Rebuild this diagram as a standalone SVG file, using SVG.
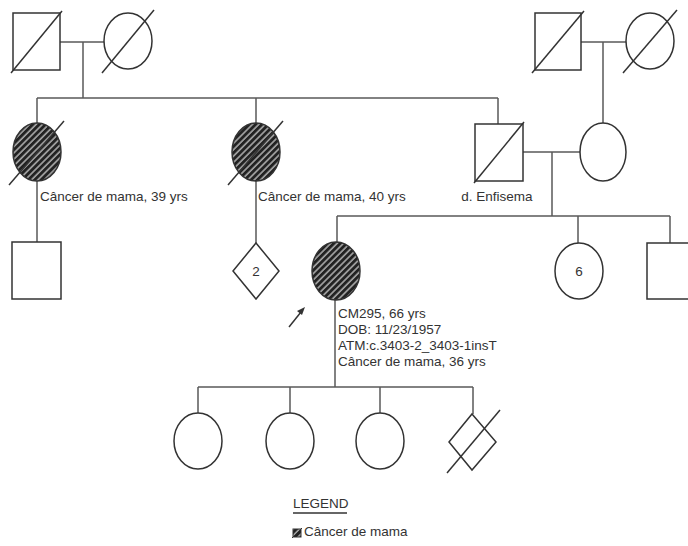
<svg xmlns="http://www.w3.org/2000/svg" width="688" height="546" viewBox="0 0 688 546">
<defs>
<pattern id="hatch" patternUnits="userSpaceOnUse" width="4.5" height="4.5" patternTransform="rotate(45)">
<rect width="4.5" height="4.5" fill="#222"/>
<line x1="1" y1="0" x2="1" y2="4.5" stroke="#a8a8a8" stroke-width="1.6"/>
</pattern>
</defs>
<style>
.c{stroke:#5a5a5a;stroke-width:1.5;fill:none}
.s{stroke:#333;stroke-width:1.5;fill:#fff}
.a{stroke:#333;stroke-width:1.5;fill:url(#hatch)}
.d{stroke:#333;stroke-width:1.5}
text{font-family:"Liberation Sans",Arial,sans-serif;font-size:13.5px;fill:#333}
.m{text-anchor:middle}
</style>
<rect width="688" height="546" fill="#fff"/>
<g id="connectors">
<path class="c" d="M60 42H104M83 42V98M37 98H498M37 98V123M256 98V123M498 98V124"/>
<path class="c" d="M581 42H627M603 42V124"/>
<path class="c" d="M37 181V242M256 181V243"/>
<path class="c" d="M523 152H581M552 152V216M337 216H670M337 216V243M578 216V243M670 216V243"/>
<path class="c" d="M335 300V387M198 387H473M198 387V413M290 387V413M380 387V413M473 387V414"/>
</g>
<g id="gp1-m"><rect class="s" x="13" y="13" width="47" height="57"/><line class="d" x1="11" y1="73" x2="62" y2="11"/></g>
<g id="gp1-f"><ellipse class="s" cx="128" cy="41" rx="24" ry="28"/><line class="d" x1="102" y1="73" x2="154" y2="10"/></g>
<g id="gp2-m"><rect class="s" x="535" y="13" width="46" height="57"/><line class="d" x1="532" y1="73" x2="584" y2="11"/></g>
<g id="gp2-f"><ellipse class="s" cx="650" cy="41" rx="24" ry="28"/><line class="d" x1="623" y1="73" x2="677" y2="10"/></g>
<g id="aunt1"><ellipse class="a" cx="37" cy="152" rx="24" ry="29"/><line class="d" x1="9" y1="185" x2="64" y2="121"/><text x="40" y="201">Câncer de mama, 39 yrs</text></g>
<g id="aunt2"><ellipse class="a" cx="256" cy="152" rx="24" ry="29"/><line class="d" x1="228" y1="185" x2="283" y2="121"/><text x="258" y="201">Câncer de mama, 40 yrs</text></g>
<g id="father"><rect class="s" x="475" y="124" width="48" height="57"/><line class="d" x1="474" y1="183" x2="524" y2="122"/><text class="m" x="497" y="201">d. Enfisema</text></g>
<g id="mother"><ellipse class="s" cx="603" cy="152" rx="23" ry="29"/></g>
<g id="cousin1"><rect class="s" x="12" y="242" width="49" height="57"/></g>
<g id="cousins2"><polygon class="s" points="256,243 279,271 256,299 233,271"/><text class="m" x="256" y="276">2</text></g>
<g id="proband"><ellipse class="a" cx="336" cy="271" rx="24" ry="29"/>
<line class="d" x1="289" y1="327" x2="301" y2="312"/><polygon points="305,307 297,311 302,315" fill="#333"/>
<text x="338" y="318">CM295, 66 yrs</text><text x="338" y="334">DOB: 11/23/1957</text><text x="338" y="350">ATM:c.3403-2_3403-1insT</text><text x="338" y="366">Câncer de mama, 36 yrs</text></g>
<g id="sisters6"><ellipse class="s" cx="579" cy="271" rx="24" ry="28"/><text class="m" x="579" y="276">6</text></g>
<g id="brother"><rect class="s" x="647" y="243" width="48" height="56"/></g>
<g id="child1"><ellipse class="s" cx="198" cy="441" rx="24" ry="28"/></g>
<g id="child2"><ellipse class="s" cx="290" cy="441" rx="24" ry="28"/></g>
<g id="child3"><ellipse class="s" cx="380" cy="441" rx="24" ry="28"/></g>
<g id="child4"><polygon class="s" points="472,414 496,442 472,470 449,442"/><line class="d" x1="447" y1="473" x2="500" y2="410"/></g>
<g id="legend">
<text x="293" y="508">LEGEND</text><line x1="293" y1="513" x2="347" y2="513" stroke="#333" stroke-width="1.4"/>
<rect x="293" y="529" width="8" height="8" fill="url(#hatch)" stroke="#333" stroke-width="1"/>
<line x1="292" y1="538" x2="302" y2="528" stroke="#333" stroke-width="1"/>
<text x="304" y="536">Câncer de mama</text>
</g>
</svg>
